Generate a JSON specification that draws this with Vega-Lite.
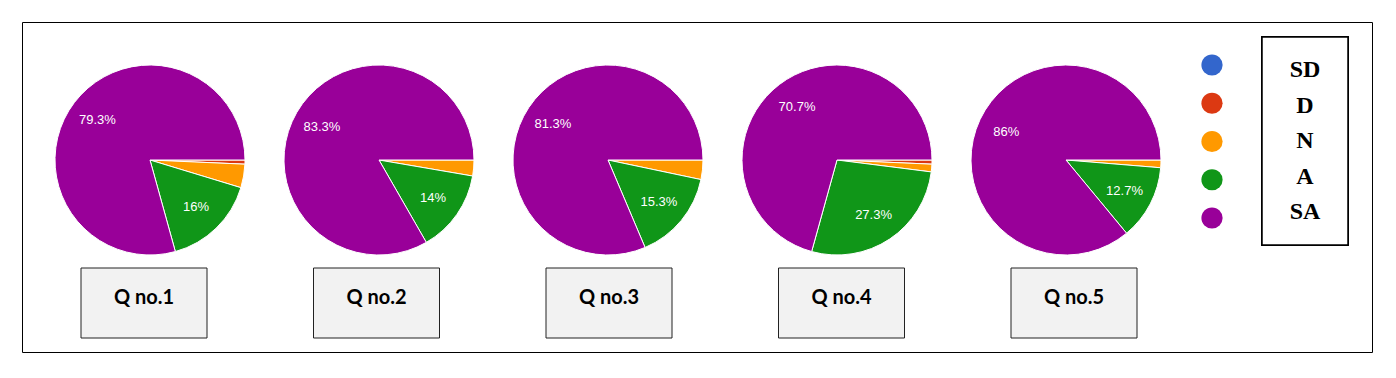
{
  "$schema": "https://vega.github.io/schema/vega-lite/v6.json",
  "width": 1396,
  "height": 378,
  "autosize": {"type": "fit", "contains": "padding"},
  "padding": {"left": 22, "top": 22, "right": 24, "bottom": 26},
  "background": "white",
  "config": {"view": {"stroke": "#000000", "strokeWidth": 1}},
  "datasets": {
    "pies": [
      {"q": "Q no.1", "cat": "D", "k": 2, "pct": 0.7, "label": ""},
      {"q": "Q no.1", "cat": "N", "k": 3, "pct": 4, "label": ""},
      {"q": "Q no.1", "cat": "A", "k": 4, "pct": 16, "label": "16%"},
      {"q": "Q no.1", "cat": "SA", "k": 5, "pct": 79.3, "label": "79.3%"},
      {"q": "Q no.2", "cat": "N", "k": 3, "pct": 2.7, "label": ""},
      {"q": "Q no.2", "cat": "A", "k": 4, "pct": 14, "label": "14%"},
      {"q": "Q no.2", "cat": "SA", "k": 5, "pct": 83.3, "label": "83.3%"},
      {"q": "Q no.3", "cat": "N", "k": 3, "pct": 3.3, "label": ""},
      {"q": "Q no.3", "cat": "A", "k": 4, "pct": 15.3, "label": "15.3%"},
      {"q": "Q no.3", "cat": "SA", "k": 5, "pct": 81.3, "label": "81.3%"},
      {"q": "Q no.4", "cat": "D", "k": 2, "pct": 0.7, "label": ""},
      {"q": "Q no.4", "cat": "N", "k": 3, "pct": 1.3, "label": ""},
      {"q": "Q no.4", "cat": "A", "k": 4, "pct": 27.3, "label": "27.3%"},
      {"q": "Q no.4", "cat": "SA", "k": 5, "pct": 70.7, "label": "70.7%"},
      {"q": "Q no.5", "cat": "N", "k": 3, "pct": 1.3, "label": ""},
      {"q": "Q no.5", "cat": "A", "k": 4, "pct": 12.7, "label": "12.7%"},
      {"q": "Q no.5", "cat": "SA", "k": 5, "pct": 86, "label": "86%"}
    ],
    "boxes": [
      {"q": "Q no.1"}, {"q": "Q no.2"}, {"q": "Q no.3"}, {"q": "Q no.4"}, {"q": "Q no.5"}
    ],
    "cats": [
      {"cat": "SD"}, {"cat": "D"}, {"cat": "N"}, {"cat": "A"}, {"cat": "SA"}
    ]
  },
  "resolve": {"scale": {"x": "independent", "y": "independent"}},
  "layer": [
    {
      "data": {"name": "pies"},
      "encoding": {
        "x": {"field": "q", "type": "nominal", "axis": null,
              "scale": {"type": "point", "padding": 0, "domain": ["Q no.1", "Q no.2", "Q no.3", "Q no.4", "Q no.5"], "range": [128, 1044]}},
        "y": {"datum": "pie", "type": "nominal", "axis": null,
              "scale": {"type": "point", "padding": 0, "domain": ["pie"], "range": [138, 138]}},
        "theta": {"field": "pct", "type": "quantitative", "stack": "normalize",
                  "scale": {"domain": [0, 1], "range": [1.5708, 7.854]}},
        "order": {"field": "k", "type": "quantitative"},
        "color": {"field": "cat", "type": "nominal", "legend": null,
                  "scale": {"domain": ["SD", "D", "N", "A", "SA"], "range": ["#3366cc", "#dc3912", "#ff9900", "#109618", "#990099"]}}
      },
      "layer": [
        {"transform": [{"filter": "datum.q === 'Q no.1'"}],
         "layer": [
           {"mark": {"type": "arc", "outerRadius": 95, "stroke": "white", "strokeWidth": 1}},
           {"mark": {"type": "text", "radius": 66, "font": "Liberation Sans", "fontSize": 13, "align": "center", "baseline": "middle"},
            "encoding": {"text": {"field": "label"}, "color": {"value": "white"}, "detail": {"field": "cat"}}}
         ]},
        {"transform": [{"filter": "datum.q === 'Q no.2'"}],
         "layer": [
           {"mark": {"type": "arc", "outerRadius": 95, "stroke": "white", "strokeWidth": 1}},
           {"mark": {"type": "text", "radius": 66, "font": "Liberation Sans", "fontSize": 13, "align": "center", "baseline": "middle"},
            "encoding": {"text": {"field": "label"}, "color": {"value": "white"}, "detail": {"field": "cat"}}}
         ]},
        {"transform": [{"filter": "datum.q === 'Q no.3'"}],
         "layer": [
           {"mark": {"type": "arc", "outerRadius": 95, "stroke": "white", "strokeWidth": 1}},
           {"mark": {"type": "text", "radius": 66, "font": "Liberation Sans", "fontSize": 13, "align": "center", "baseline": "middle"},
            "encoding": {"text": {"field": "label"}, "color": {"value": "white"}, "detail": {"field": "cat"}}}
         ]},
        {"transform": [{"filter": "datum.q === 'Q no.4'"}],
         "layer": [
           {"mark": {"type": "arc", "outerRadius": 95, "stroke": "white", "strokeWidth": 1}},
           {"mark": {"type": "text", "radius": 66, "font": "Liberation Sans", "fontSize": 13, "align": "center", "baseline": "middle"},
            "encoding": {"text": {"field": "label"}, "color": {"value": "white"}, "detail": {"field": "cat"}}}
         ]},
        {"transform": [{"filter": "datum.q === 'Q no.5'"}],
         "layer": [
           {"mark": {"type": "arc", "outerRadius": 95, "stroke": "white", "strokeWidth": 1}},
           {"mark": {"type": "text", "radius": 66, "font": "Liberation Sans", "fontSize": 13, "align": "center", "baseline": "middle"},
            "encoding": {"text": {"field": "label"}, "color": {"value": "white"}, "detail": {"field": "cat"}}}
         ]}
      ]
    },
    {
      "data": {"name": "boxes"},
      "encoding": {
        "x": {"field": "q", "type": "nominal", "axis": null,
              "scale": {"type": "point", "padding": 0, "domain": ["Q no.1", "Q no.2", "Q no.3", "Q no.4", "Q no.5"], "range": [122, 1052]}},
        "y": {"datum": "box", "type": "nominal", "axis": null,
              "scale": {"type": "point", "padding": 0, "domain": ["box"], "range": [281, 281]}}
      },
      "layer": [
        {"mark": {"type": "rect", "width": 126, "height": 70, "fill": "#f2f2f2", "stroke": "#222222", "strokeWidth": 1}},
        {"mark": {"type": "text", "font": "Lato", "fontWeight": "bold", "fontSize": 20, "align": "center", "baseline": "middle", "dy": -5, "color": "#000000"},
         "encoding": {"text": {"field": "q"}}}
      ]
    },
    {
      "data": {"name": "cats"},
      "mark": {"type": "point", "filled": true, "size": 450, "opacity": 1},
      "encoding": {
        "x": {"datum": "dot", "type": "nominal", "axis": null,
              "scale": {"type": "point", "padding": 0, "domain": ["dot"], "range": [1190, 1190]}},
        "y": {"field": "cat", "type": "nominal", "axis": null,
              "scale": {"type": "point", "padding": 0, "domain": ["SD", "D", "N", "A", "SA"], "range": [43, 196]}},
        "color": {"field": "cat", "type": "nominal", "legend": null}
      }
    },
    {
      "data": {"name": "cats"},
      "encoding": {
        "x": {"datum": "box", "type": "nominal", "axis": null,
              "scale": {"type": "point", "padding": 0, "domain": ["box"], "range": [1283, 1283]}},
        "y": {"field": "cat", "type": "nominal", "axis": null,
              "scale": {"type": "point", "padding": 0, "domain": ["SD", "D", "N", "A", "SA"], "range": [48, 190]}}
      },
      "layer": [
        {"mark": {"type": "rect", "width": 86, "height": 208, "fill": "white", "stroke": "#000000", "strokeWidth": 1.5},
         "encoding": {"y": {"datum": "N", "type": "nominal"}}},
        {"mark": {"type": "text", "font": "Liberation Serif", "fontWeight": "bold", "fontSize": 24, "align": "center", "baseline": "middle", "color": "#000000"},
         "encoding": {"text": {"field": "cat"}}}
      ]
    }
  ]
}
